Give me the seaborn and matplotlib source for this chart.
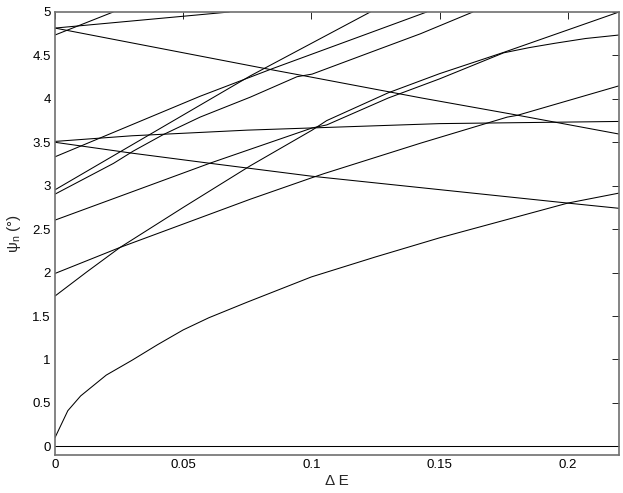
import pandas as pd
import seaborn as sns
import matplotlib.pyplot as plt

# curve vertices (x = Delta E, y = psi_n in degrees)
x_zero = [0, 0.22]
y_zero = [0, 0]

x_root = [0, 0.005, 0.01, 0.02, 0.03, 0.04, 0.05, 0.06, 0.075, 0.1, 0.125, 0.15, 0.175, 0.2, 0.22]
y_root = [0.10, 0.41, 0.58, 0.82, 0.99, 1.17, 1.34, 1.48, 1.66, 1.95, 2.18, 2.40, 2.60, 2.80, 2.915]

x_c173 = [0, 0.0125, 0.0254, 0.05, 0.0762, 0.1003, 0.106, 0.13, 0.15, 0.175, 0.22]
y_c173 = [1.73, 2.01, 2.29, 2.75, 3.23, 3.64, 3.75, 4.07, 4.29, 4.535, 5.0]

x_c199 = [0, 0.0254, 0.0762, 0.1, 0.105, 0.1426, 0.1764, 0.1803, 0.22]
y_c199 = [1.99, 2.29, 2.845, 3.09, 3.14, 3.49, 3.79, 3.81, 4.15]

x_c260 = [0, 0.0605, 0.0762, 0.1003, 0.106, 0.13, 0.15, 0.175, 0.185, 0.195, 0.207, 0.22]
y_c260 = [2.604, 3.26, 3.42, 3.665, 3.70, 4.01, 4.23, 4.53, 4.59, 4.64, 4.695, 4.735]

x_c290 = [0, 0.0228, 0.0306, 0.042, 0.0566, 0.0762, 0.0944, 0.1003, 0.123, 0.1426, 0.163]
y_c290 = [2.903, 3.257, 3.40, 3.585, 3.79, 4.02, 4.255, 4.285, 4.535, 4.75, 5.0]

x_c295 = [0, 0.0762, 0.123]
y_c295 = [2.953, 4.265, 5.0]

x_c333 = [0, 0.0566, 0.085, 0.145]
y_c333 = [3.333, 4.03, 4.35, 5.0]

x_down350 = [0, 0.03, 0.06, 0.1, 0.15, 0.2, 0.22]
y_down350 = [3.50, 3.375, 3.26, 3.11, 2.955, 2.80, 2.74]

x_flat351 = [0, 0.03, 0.075, 0.1, 0.15, 0.22]
y_flat351 = [3.51, 3.575, 3.64, 3.665, 3.715, 3.74]

x_down481 = [0, 0.08, 0.1, 0.143, 0.178, 0.22]
y_down481 = [4.815, 4.36, 4.25, 4.01, 3.825, 3.595]

x_c473 = [0, 0.0227]
y_c473 = [4.735, 5.0]

x_c481 = [0, 0.068]
y_c481 = [4.815, 5.0]

xticks = [0, 0.05, 0.1, 0.15, 0.2]
xtick_labels = ['0', '0.05', '0.1', '0.15', '0.2']
yticks = [0, 0.5, 1, 1.5, 2, 2.5, 3, 3.5, 4, 4.5, 5]
ytick_labels = ['0', '0.5', '1', '1.5', '2', '2.5', '3', '3.5', '4', '4.5', '5']

curves = {
    'zero': (x_zero, y_zero),
    'root': (x_root, y_root),
    'c173': (x_c173, y_c173),
    'c199': (x_c199, y_c199),
    'c260': (x_c260, y_c260),
    'c290': (x_c290, y_c290),
    'c295': (x_c295, y_c295),
    'c333': (x_c333, y_c333),
    'down350': (x_down350, y_down350),
    'flat351': (x_flat351, y_flat351),
    'down481': (x_down481, y_down481),
    'c473': (x_c473, y_c473),
    'c481': (x_c481, y_c481),
}

rows = []
for name, (xs, ys) in curves.items():
    for i, (xv, yv) in enumerate(zip(xs, ys)):
        rows.append({'curve': name, 'order': i, 'dE': xv, 'psi': yv})
df = pd.DataFrame(rows)

sns.set_style('white')
plt.rcParams['font.family'] = ['Liberation Sans', 'DejaVu Sans']

fig = plt.figure(figsize=(6.23, 4.93), dpi=100)
ax = fig.add_axes([55 / 623, 1 - 455 / 493, 564 / 623, 443 / 493])

sns.lineplot(data=df, x='dE', y='psi', units='curve', estimator=None, sort=False,
             color='black', linewidth=0.75, ax=ax)

ax.set_xlim(0, 0.22)
ax.set_ylim(-0.1, 5)
ax.set_xticks(xticks)
ax.set_xticklabels(xtick_labels)
ax.set_yticks(yticks)
ax.set_yticklabels(ytick_labels)
ax.tick_params(direction='in', top=True, right=True, length=5, width=0.6,
               labelsize=9.5, colors='black', pad=3)
for sp in ax.spines.values():
    sp.set_visible(True)
    sp.set_color('#707070')
    sp.set_linewidth(1.2)

ax.set_xlabel('Δ E', fontsize=11, labelpad=2)
ax.set_ylabel('ψ$_\\mathregular{n}$ (°)', fontsize=11, labelpad=7)

fig.savefig('out.png', dpi=100)
